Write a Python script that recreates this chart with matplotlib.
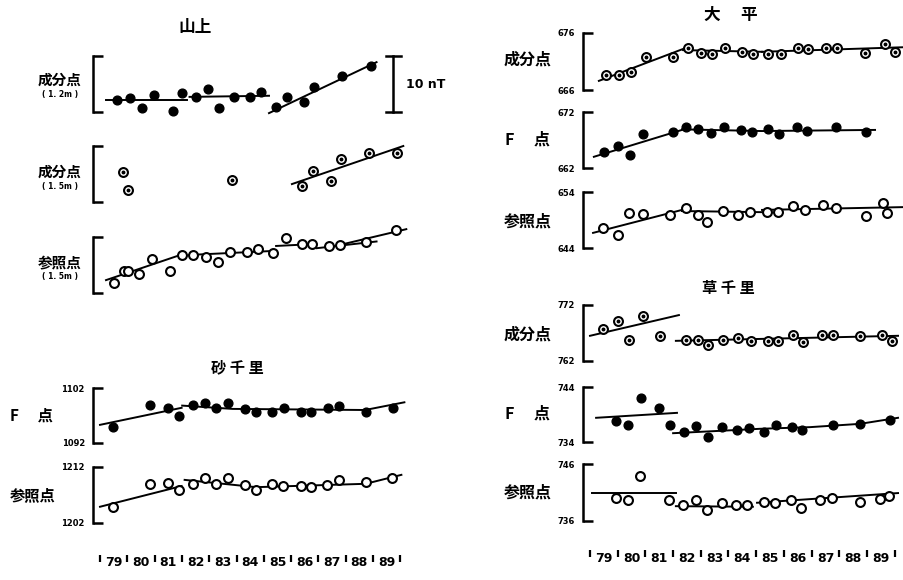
import matplotlib

matplotlib.use("Agg")
import matplotlib.pyplot as plt
import matplotlib.transforms as mtransforms

plt.rcParams["font.family"] = ["Noto Sans CJK JP", "DejaVu Sans"]

W, H = 904, 580
XMIN, XMAX = 1978.75, 1990.3
# pixel of 1979 and pixels per year, for each column
COLS = {"L": (100, 27.3), "R": (590, 27.7)}

YEAR_TICKS = list(range(1979, 1991))
YEAR_LABELS = ["79", "80", "81", "82", "83", "84", "85", "86", "87", "88", "89"]

# --- 山上 -------------------------------------------------------------
YAMA_C12_T = [1979.62, 1980.09, 1980.53, 1980.97, 1981.66, 1982.02, 1982.53, 1982.97, 1983.37,
              1983.92, 1984.50, 1984.90, 1985.45, 1985.85, 1986.47, 1986.83, 1987.85, 1988.91]
YAMA_C12_V = [2.1, 2.5, 0.7, 3.0, 0.2, 3.4, 2.7, 4.1, 0.7, 2.7, 2.7, 3.6, 0.9, 2.7, 1.8, 4.5, 6.4, 8.2]
YAMA_C12_FIT = [([1979.22, 1982.17], [2.1, 2.1]),
                ([1982.28, 1985.19], [2.7, 2.9]),
                ([1985.19, 1989.13], [-0.2, 8.9])]

YAMA_C15_T = [1979.84, 1980.02, 1983.85, 1986.40, 1986.80, 1987.45, 1987.82, 1988.84, 1989.89]
YAMA_C15_V = [5.4, 2.1, 3.9, 2.9, 5.5, 3.75, 7.7, 8.75, 8.75]
YAMA_C15_FIT = [([1986.03, 1990.11], [3.2, 10.0])]

YAMA_R15_T = [1979.51, 1979.87, 1980.02, 1980.42, 1980.89, 1981.55, 1981.99, 1982.42, 1982.90, 1983.34,
              1983.77, 1984.39, 1984.79, 1985.34, 1985.81, 1986.40, 1986.76, 1987.38, 1987.78,
              1988.76, 1989.86]
YAMA_R15_V = [1.8, 3.9, 3.9, 3.4, 6.1, 3.9, 6.8, 6.8, 6.4, 5.5, 7.3, 7.3, 7.9, 7.1, 9.8, 8.75, 8.75,
              8.4, 8.6, 9.1, 11.25]
YAMA_R15_FIT = [([1979.22, 1982.13], [2.3, 7.1]),
                ([1982.28, 1985.30], [6.8, 7.5]),
                ([1985.45, 1986.87], [8.4, 8.75]),
                ([1986.94, 1989.13], [8.0, 9.2]),
                ([1987.93, 1990.22], [8.75, 11.4])]

# --- 砂千里 -----------------------------------------------------------
SUNA_F_T = [1979.47, 1980.82, 1981.48, 1981.88, 1982.39, 1982.86, 1983.26, 1983.70, 1984.32,
            1984.72, 1985.30, 1985.74, 1986.36, 1986.72, 1987.34, 1987.74, 1988.76, 1989.75]
SUNA_F_V = [1094.9, 1098.9, 1098.4, 1096.9, 1098.9, 1099.3, 1098.4, 1099.3, 1098.2, 1097.6, 1097.6,
            1098.4, 1097.6, 1097.6, 1098.4, 1098.7, 1097.6, 1098.4]
SUNA_F_FIT = [([1979.0, 1981.99], [1095.3, 1098.4]),
              ([1982.01, 1983.86, 1988.71, 1990.15], [1098.8, 1098.2, 1098.0, 1099.4])]

SUNA_R_T = [1979.47, 1980.82, 1981.48, 1981.88, 1982.39, 1982.86, 1983.26, 1983.70, 1984.32,
            1984.72, 1985.30, 1985.70, 1986.36, 1986.72, 1987.31, 1987.74, 1988.73, 1989.71]
SUNA_R_V = [1204.9, 1209.0, 1209.1, 1207.9, 1209.0, 1210.0, 1209.0, 1210.0, 1208.8, 1207.9, 1209.0,
            1208.6, 1208.6, 1208.4, 1208.8, 1209.7, 1209.3, 1210.0]
SUNA_R_FIT = [([1979.0, 1981.99], [1204.9, 1208.6]),
              ([1982.10, 1984.72, 1988.73, 1990.04], [1209.7, 1208.4, 1209.0, 1210.6])]

# --- 大平 -------------------------------------------------------------
OHIRA_C_T = [1979.58, 1980.05, 1980.48, 1981.02, 1982.00, 1982.54, 1983.01, 1983.40, 1983.87, 1984.49,
             1984.88, 1985.43, 1985.90, 1986.51, 1986.87, 1987.52, 1987.92, 1988.93, 1989.65, 1990.01]
OHIRA_C_V = [668.6, 668.6, 669.2, 671.8, 671.8, 673.4, 672.5, 672.3, 673.4, 672.7, 672.3, 672.3,
             672.3, 673.4, 673.2, 673.4, 673.4, 672.5, 674.1, 672.7]
OHIRA_C_FIT = [([1979.32, 1982.36], [667.6, 673.2]),
               ([1982.36, 1985.21], [673.0, 672.7]),
               ([1985.21, 1990.3], [672.7, 673.5])]

OHIRA_F_T = [1979.51, 1980.01, 1980.44, 1980.91, 1982.00, 1982.47, 1982.90, 1983.37, 1983.84, 1984.45,
             1984.85, 1985.43, 1985.82, 1986.47, 1986.83, 1987.88, 1988.96]
OHIRA_F_V = [664.9, 665.9, 664.3, 668.1, 668.4, 669.3, 669.0, 668.3, 669.3, 668.8, 668.4, 669.0,
             668.1, 669.3, 668.6, 669.3, 668.4]
OHIRA_F_FIT = [([1979.14, 1982.32], [664.0, 668.8]),
               ([1982.32, 1985.21, 1989.29], [668.9, 668.6, 668.8])]

OHIRA_R_T = [1979.47, 1980.01, 1980.41, 1980.91, 1981.89, 1982.47, 1982.90, 1983.22, 1983.80, 1984.34,
             1984.78, 1985.39, 1985.79, 1986.33, 1986.76, 1987.41, 1987.88, 1988.96, 1989.58, 1989.72]
OHIRA_R_V = [647.6, 646.3, 650.25, 650.1, 649.9, 651.1, 649.9, 648.6, 650.6, 649.9, 650.4, 650.4,
             650.4, 651.5, 650.8, 651.7, 651.1, 649.7, 652.0, 650.25]
OHIRA_R_FIT = [([1979.11, 1982.32], [646.7, 650.8]),
               ([1982.32, 1985.21], [650.6, 650.4]),
               ([1985.21, 1990.3], [650.8, 651.3])]

# --- 草千里 -----------------------------------------------------------
KUSA_C_T = [1979.47, 1980.01, 1980.41, 1980.91, 1981.53, 1982.47, 1982.90, 1983.26, 1983.80, 1984.34,
            1984.81, 1985.43, 1985.79, 1986.33, 1986.69, 1987.38, 1987.77, 1988.75, 1989.54, 1989.90]
KUSA_C_V = [767.7, 769.1, 765.75, 770.0, 766.5, 765.75, 765.75, 764.9, 765.75, 766.1, 765.6, 765.6,
            765.6, 766.6, 765.4, 766.6, 766.6, 766.5, 766.6, 765.6]
KUSA_C_FIT = [([1979.0, 1982.21], [766.5, 770.2]),
              ([1982.1, 1990.12], [765.6, 766.5])]

KUSA_F_T = [1979.94, 1980.37, 1980.84, 1981.49, 1981.89, 1982.39, 1982.83, 1983.26, 1983.77, 1984.31,
            1984.74, 1985.28, 1985.71, 1986.29, 1986.65, 1987.77, 1988.75, 1989.83]
KUSA_F_V = [737.8, 737.1, 742.0, 740.2, 737.1, 735.8, 736.9, 734.9, 736.7, 736.2, 736.5, 735.8,
            737.1, 736.7, 736.2, 737.1, 737.3, 738.0]
KUSA_F_FIT = [([1979.22, 1982.14], [738.4, 739.3]),
              ([1982.0, 1985.14, 1986.94, 1988.75, 1990.12], [735.6, 736.4, 736.7, 737.3, 738.4])]

KUSA_R_T = [1979.94, 1980.37, 1980.81, 1981.85, 1982.36, 1982.83, 1983.22, 1983.77, 1984.27, 1984.67,
            1985.28, 1985.68, 1986.26, 1986.62, 1987.30, 1987.74, 1988.75, 1989.47, 1989.79]
KUSA_R_V = [740.0, 739.7, 743.9, 739.7, 738.8, 739.7, 737.9, 739.2, 738.8, 738.8, 739.3, 739.2,
            739.7, 738.3, 739.7, 740.0, 739.3, 739.9, 740.4]
KUSA_R_FIT = [([1979.07, 1982.10], [740.9, 740.9]),
              ([1982.1, 1984.88], [738.6, 738.5]),
              ([1985.03, 1990.12], [739.2, 740.9])]

fig = plt.figure(figsize=(W / 100, H / 100), dpi=100)
fig.patch.set_facecolor("white")


def col_px(col, year):
    x0, ppy = COLS[col]
    return x0 + (year - 1979) * ppy


def ftext(x, y, s, **kw):
    kw.setdefault("ha", "center")
    kw.setdefault("va", "center")
    kw.setdefault("fontweight", "bold")
    fig.text(x / W, 1 - y / H, s, **kw)


def add_panel(col, top, bottom, lo, hi, labels=True):
    left, right = col_px(col, XMIN), col_px(col, XMAX)
    ax = fig.add_axes([left / W, 1 - bottom / H, (right - left) / W, (bottom - top) / H])
    ax.set_xlim(XMIN, XMAX)
    ax.set_ylim(lo, hi)
    ax.patch.set_alpha(0)
    for s in ("top", "right", "bottom"):
        ax.spines[s].set_visible(False)
    ax.spines["left"].set_linewidth(1.8)
    ax.set_xticks([])
    ax.set_yticks([lo, hi])
    ax.tick_params(axis="y", direction="in", length=7, width=1.8, pad=6, labelsize=6)
    if labels:
        ax.set_yticklabels([str(lo), str(hi)], fontweight="bold", family="DejaVu Sans")
    else:
        ax.set_yticklabels([])
    return ax


def draw(ax, t, v, fits, kind):
    for ft, fv in fits:
        ax.plot(ft, fv, color="black", lw=1.4, clip_on=False, zorder=2)
    if kind == "filled":
        ax.plot(t, v, "o", ms=6.3, color="black", clip_on=False, zorder=3)
    else:
        ax.plot(t, v, "o", ms=6.4, mfc="white", mec="black", mew=1.5, clip_on=False, zorder=3)
        if kind == "dotted":
            ax.plot(t, v, "o", ms=1.8, color="black", clip_on=False, zorder=4)


def year_axis(col, y_tick, y_lab):
    left, right = col_px(col, XMIN), col_px(col, XMAX)
    ax = fig.add_axes([left / W, 1 - y_tick / H, (right - left) / W, 0.0005])
    ax.set_xlim(XMIN, XMAX)
    for s in ax.spines.values():
        s.set_visible(False)
    ax.set_yticks([])
    ax.xaxis.tick_top()
    ax.set_xticks(YEAR_TICKS)
    ax.tick_params(axis="x", direction="in", length=5, width=1.6, labeltop=False)
    trans = mtransforms.blended_transform_factory(ax.transData, fig.transFigure)
    for yr, lab in zip(YEAR_TICKS[:-1], YEAR_LABELS):
        ax.text(yr + 0.5, 1 - y_lab / H, lab, transform=trans, ha="center", va="center",
                fontsize=9, fontweight="bold", family="DejaVu Sans")


# ---------------- left column ----------------
ftext(195, 27, "山上", fontsize=12)

ax = add_panel("L", 56, 112, 0, 10, labels=False)
draw(ax, YAMA_C12_T, YAMA_C12_V, YAMA_C12_FIT, "filled")
# 10 nT scale bar
ax.plot([1989.75, 1989.75], [0, 10], color="black", lw=1.8, clip_on=False)
ax.plot([1989.47, 1990.03], [0, 0], color="black", lw=1.8, clip_on=False)
ax.plot([1989.47, 1990.03], [10, 10], color="black", lw=1.8, clip_on=False)
ax.text(1990.2, 5, "10 nT", ha="left", va="center", fontsize=9, fontweight="bold",
        family="DejaVu Sans")
ftext(60, 80, "成分点", fontsize=10.5)
ftext(60, 95, "( 1. 2m )", fontsize=5.5, family="DejaVu Sans")

ax = add_panel("L", 146, 202, 0, 10, labels=False)
draw(ax, YAMA_C15_T, YAMA_C15_V, YAMA_C15_FIT, "dotted")
ftext(60, 172, "成分点", fontsize=10.5)
ftext(60, 187, "( 1. 5m )", fontsize=5.5, family="DejaVu Sans")

ax = add_panel("L", 237, 293, 0, 10, labels=False)
draw(ax, YAMA_R15_T, YAMA_R15_V, YAMA_R15_FIT, "open")
ftext(60, 262, "参照点", fontsize=10.5)
ftext(60, 277, "( 1. 5m )", fontsize=5.5, family="DejaVu Sans")

ftext(237, 367, "砂 千 里", fontsize=11)

ax = add_panel("L", 388, 443, 1092, 1102)
draw(ax, SUNA_F_T, SUNA_F_V, SUNA_F_FIT, "filled")
ftext(10, 416, "F　 点", fontsize=11, ha="left")

ax = add_panel("L", 467, 523, 1202, 1212)
draw(ax, SUNA_R_T, SUNA_R_V, SUNA_R_FIT, "open")
ftext(33, 495, "参照点", fontsize=11)

year_axis("L", 555, 562)

# ---------------- right column ----------------
ftext(731, 15, "大　 平", fontsize=12)

ax = add_panel("R", 33, 90, 666, 676)
draw(ax, OHIRA_C_T, OHIRA_C_V, OHIRA_C_FIT, "dotted")
ftext(528, 60, "成分点", fontsize=11.5)

ax = add_panel("R", 112, 168, 662, 672)
draw(ax, OHIRA_F_T, OHIRA_F_V, OHIRA_F_FIT, "filled")
ftext(505, 140, "F　 点", fontsize=11.5, ha="left")

ax = add_panel("R", 192, 248, 644, 654)
draw(ax, OHIRA_R_T, OHIRA_R_V, OHIRA_R_FIT, "open")
ftext(528, 222, "参照点", fontsize=11.5)

ftext(728, 288, "草 千 里", fontsize=11)

ax = add_panel("R", 305, 361, 762, 772)
draw(ax, KUSA_C_T, KUSA_C_V, KUSA_C_FIT, "dotted")
ftext(528, 335, "成分点", fontsize=11.5)

ax = add_panel("R", 387, 442, 734, 744)
draw(ax, KUSA_F_T, KUSA_F_V, KUSA_F_FIT, "filled")
ftext(505, 414, "F　 点", fontsize=11.5, ha="left")

ax = add_panel("R", 464, 521, 736, 746)
draw(ax, KUSA_R_T, KUSA_R_V, KUSA_R_FIT, "open")
ftext(528, 493, "参照点", fontsize=11.5)

year_axis("R", 550, 558)

fig.savefig("out.png", dpi=100, facecolor="white")
